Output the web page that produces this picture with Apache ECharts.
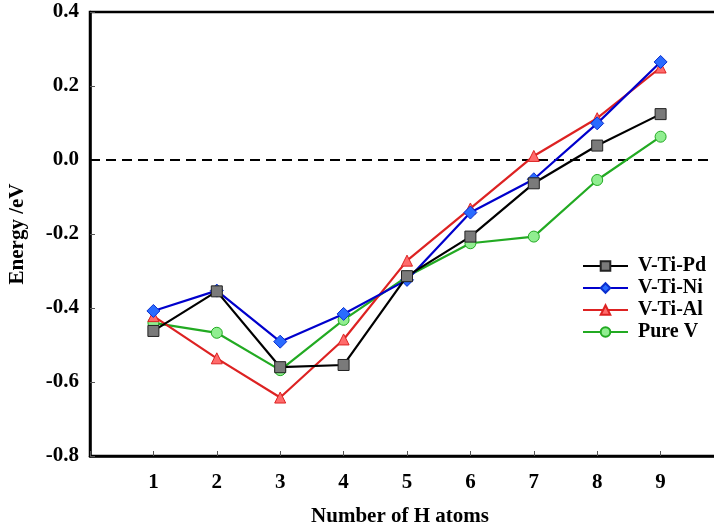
<!DOCTYPE html>
<html><head><meta charset="utf-8">
<script src="https://cdn.jsdelivr.net/npm/echarts@6/dist/echarts.min.js"></script>
<style>html,body{margin:0;padding:0;background:#fff}#c{width:714px;height:529px}</style>
</head><body><div id="c"></div>
<script>
const hAtoms = [1, 2, 3, 4, 5, 6, 7, 8, 9];
const vTiPd = [-0.462, -0.355, -0.560, -0.554, -0.314, -0.207, -0.063, 0.039, 0.124];
const vTiNi = [-0.408, -0.353, -0.491, -0.416, -0.324, -0.142, -0.052, 0.099, 0.265];
const vTiAl = [-0.422, -0.536, -0.642, -0.485, -0.272, -0.131, 0.011, 0.113, 0.250];
const pureV = [-0.440, -0.467, -0.568, -0.432, -0.315, -0.225, -0.207, -0.054, 0.063];
const names = ['V-Ti-Pd', 'V-Ti-Ni', 'V-Ti-Al', 'Pure V'];
const zeroLineX = [0, 10];
const zeroLineY = [0, 0];

const font = '"Liberation Serif","Times New Roman",serif';
const pair = (xs, ys) => xs.map((x, i) => [x, ys[i]]);

const styles = [
  {line: '#000000', fill: '#7a7a7a', border: '#222222', symbol: 'rect', size: 11},
  {line: '#0000cc', fill: '#2a6bff', border: '#0a2fd0', symbol: 'diamond', size: 13},
  {line: '#dd2222', fill: '#ff6b6b', border: '#dd2222', symbol: 'triangle', size: 11},
  {line: '#22aa22', fill: '#90ee90', border: '#22aa22', symbol: 'circle', size: 11}
];
const datas = [vTiPd, vTiNi, vTiAl, pureV];

const series = [{
  name: 'zero', type: 'line', data: pair(zeroLineX, zeroLineY),
  symbol: 'none', silent: true, z: 1,
  lineStyle: {color: '#000', type: [10, 6], width: 2}
}].concat(datas.map((d, i) => ({
  name: names[i],
  type: 'line',
  data: pair(hAtoms, d),
  symbol: styles[i].symbol,
  symbolSize: styles[i].size,
  lineStyle: {color: styles[i].line, width: 2.2},
  itemStyle: {color: styles[i].fill, borderColor: styles[i].border, borderWidth: 1},
  z: 3 + (4 - i)
})));

const chart = echarts.init(document.getElementById('c'));
chart.setOption({
  animation: false,
  backgroundColor: '#fff',
  grid: {left: 90, top: 12, right: -10, bottom: 73, show: true, borderColor: '#000', borderWidth: 2.5,
    containLabel: false, outerBoundsMode: 'none'},
  legend: {
    orient: 'vertical', left: 577, top: 251,
    itemWidth: 45, itemHeight: 12, itemGap: 2,
    textStyle: {fontFamily: font, fontWeight: 'bold', fontSize: 20, color: '#000', padding: [0, 0, 0, 5]},
    data: names
  },
  xAxis: {
    type: 'value', min: 0, max: 10, interval: 1,
    name: 'Number of H atoms', nameLocation: 'middle', nameGap: 50,
    nameTextStyle: {fontFamily: font, fontWeight: 'bold', fontSize: 21, color: '#000', padding: [0, 14, 0, 0]},
    axisLine: {onZero: false, lineStyle: {color: '#000', width: 2.5}},
    axisTick: {inside: true, length: 5, lineStyle: {color: '#555', width: 1}},
    axisLabel: {fontFamily: font, fontWeight: 'bold', fontSize: 21, color: '#000', margin: 16,
      formatter: v => (v >= 1 && v <= 9) ? String(v) : ''},
    splitLine: {show: false}
  },
  yAxis: {
    type: 'value', min: -0.8, max: 0.4, interval: 0.2,
    name: 'Energy /eV', nameLocation: 'middle', nameGap: 62,
    nameTextStyle: {fontFamily: font, fontWeight: 'bold', fontSize: 21, color: '#000'},
    axisLine: {onZero: false, lineStyle: {color: '#000', width: 2.5}},
    axisTick: {inside: true, length: 5, lineStyle: {color: '#555', width: 1}},
    axisLabel: {fontFamily: font, fontWeight: 'bold', fontSize: 21, color: '#000', margin: 11,
      formatter: v => { const r = Math.round(v * 10) / 10; return (r === 0 ? 0 : r).toFixed(1); }},
    splitLine: {show: false}
  },
  series: series
});
</script></body></html>
